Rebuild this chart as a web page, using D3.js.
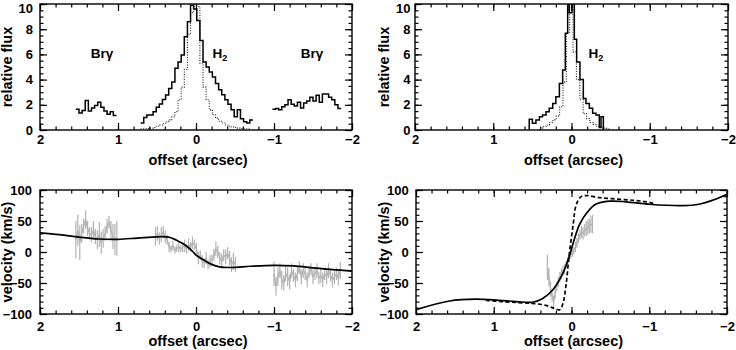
<!DOCTYPE html>
<html>
<head>
<meta charset="utf-8">
<style>
  body { margin: 0; background: #fff; }
  svg { display: block; font-family: "Liberation Sans", Arial, sans-serif; font-weight: bold; }
  .frame { fill: none; stroke: #000; stroke-width: 1.4; }
  .axis path.domain { display: none; }
  .axis line { stroke: #000; stroke-width: 1.2; }
  .axis text { font-size: 13px; font-weight: bold; fill: #000; font-family: "Liberation Sans", Arial, sans-serif; }
  .title { font-size: 14.5px; }
  .hist { fill: none; stroke: #000; stroke-width: 1.5; }
  .hist.dot { stroke: #222; stroke-width: 1.1; stroke-dasharray: 1 1.5; }
  .model { fill: none; stroke: #000; stroke-width: 1.7; }
  .model.dash { stroke-dasharray: 4 2.5; }
  .obs { fill: none; stroke: #b3b3b3; stroke-width: 1.3; }
  .err { stroke: #b3b3b3; stroke-width: 1.2; }
</style>
<title>H2 / Brg offset profiles</title>
</head>
<body>
<svg id="fig" width="736" height="350"></svg>
<script src="https://cdn.jsdelivr.net/npm/d3@7"></script>
<script>
// ---------------- data ----------------
// flux histograms: first bin edge (arcsec), bin width, values (relative flux)
var brgEastStart = 1.54, brgEastBin = 0.04;
var brgEast = [1.65, 1.35, 1.55, 2.35, 1.5, 1.75, 1.95, 2.2, 1.8, 1.5, 1.25, 1.45, 1.15];
var brgWestStart = -0.98, brgWestBin = 0.04;
var brgWest = [1.65, 1.7, 1.6, 1.85, 2.0, 2.4, 2.05, 1.9, 2.2, 1.75, 2.15, 2.3, 2.6, 2.3, 2.75, 2.2, 2.85, 2.85, 2.6, 2.4, 2.0, 1.7];
var h2LeftStart = 0.71, h2LeftBin = 0.04;
var h2Left = [0.55, 1.0, 1.19, 1.19, 1.45, 1.8, 2.06, 2.43, 2.78, 3.3, 3.8, 4.9, 5.4, 5.95, 7.4, 8.6, 9.9,
              9.6, 8.7, 7.1, 5.4, 5.0, 4.6, 4.2, 3.7, 3.2, 2.8, 2.4, 2.05, 1.6, 1.05, 1.6, 0.9, 0.65, 0.55, 0.8];
var contLeftStart = 0.71, contLeftBin = 0.04;
var contLeft = [0.1, 0.1, 0.12, 0.15, 0.2, 0.3, 0.4, 0.5, 0.65, 0.8, 1.05, 1.45, 2.4, 3.4, 4.8, 7.6, 9.3,
                9.8, 9.8, 5.3, 3.4, 2.4, 1.6, 1.2, 0.94, 0.7, 0.55, 0.4, 0.3, 0.25, 0.2, 0.15, 0.12, 0.1, 0.1];
// second slit: explicit bin edges
var h2RightEdges = [0.54, 0.50, 0.455, 0.41, 0.37, 0.325, 0.285, 0.24, 0.20, 0.155, 0.113, 0.079, 0.049,
                    0.028, -0.006, -0.036, -0.066, -0.108, -0.151, -0.185, -0.228, -0.27, -0.313, -0.355, -0.377, -0.407];
var h2Right = [0.85, 0.53, 0.8, 1.06, 1.19, 1.45, 1.72, 2.1, 2.64, 3.7, 4.76, 7.67, 11, 9.3, 11, 7.2, 5.4,
               4.0, 2.5, 2.1, 1.72, 1.32, 1.19, 0.2, 1.06];
var contRightStart = 0.41, contRightBin = 0.043;
var contRight = [0.15, 0.3, 0.4, 0.6, 0.8, 1.1, 1.85, 3.8, 7.7, 10.5, 6.2, 4.0, 2.4, 1.3, 0.9, 0.6, 0.45, 0.3, 0.25, 0.15, 0.1];

// velocity curves (offset arcsec, km/s)
var velLeftStart = [1.54, 0.52, -1.0], velLeftStep = 0.025;
var velLeftE = [20, 35, 15, 30, 42, 52, 38, 30, 28, 35, 25, 20, 28, 15, 22, 30, 42, 48, 35, 25, 20, 22];
var errLeftE = [30, 25, 28, 15, 12, 15, 12, 10, 12, 15, 12, 15, 20, 18, 15, 12, 12, 10, 15, 20, 25, 28];
var velLeftC = [25, 30, 22, 28, 32, 25, 20, 8, 5, 10, 3, 6, 8, 5, 8, 10, 5, 12, 8, 15, 12, 5, -10, -5, -15, -18,
                -10, -20, -15, -12, -5, 5, 0, -10, -15, -5, -8, -2, -10, -20, -15, -20];
var errLeftC = [15, 12, 10, 12, 10, 10, 8, 8, 6, 8, 6, 6, 8, 6, 8, 10, 8, 10, 8, 10, 8, 10, 10, 8, 10, 8,
                10, 8, 10, 8, 10, 12, 10, 10, 12, 10, 12, 10, 12, 12, 14, 12];
var velLeftW = [-35, -55, -40, -30, -45, -50, -35, -40, -48, -30, -38, -45, -35, -25, -40, -30, -35, -45, -32, -28,
                -40, -35, -30, -42, -38, -45, -35, -40, -30, -38, -45, -40, -35, -42, -30];
var errLeftW = [20, 15, 15, 12, 15, 12, 12, 15, 12, 12, 10, 12, 12, 10, 12, 12, 10, 12, 10, 10,
                12, 10, 12, 10, 12, 12, 10, 12, 12, 10, 12, 12, 10, 12, 14];
var modelLeft = [[2, 31], [1.75, 28], [1.5, 24], [1.25, 21], [1.0, 20.5], [0.75, 22.5], [0.5, 24.5], [0.35, 24],
                 [0.25, 19], [0.15, 12], [0.05, 2], [0, -5], [-0.1, -13], [-0.2, -20], [-0.3, -24], [-0.45, -25],
                 [-0.7, -23], [-1.0, -21.5], [-1.25, -22.5], [-1.5, -25.5], [-1.75, -28.5], [-2, -30.5]];

var velRightStart = 0.31, velRightStep = 0.02;
var velRight = [-25, -40, -60, -70, -80, -65, -55, -48, -40, -35, -30, -28, -20, -15, -10, -5, -2, 2, 8, 15,
                22, 28, 32, 30, 35, 38, 40, 42, 45, 45];
var errRight = [20, 15, 12, 10, 10, 10, 8, 8, 8, 8, 8, 8, 6, 6, 6, 6, 6, 6, 8, 8, 8, 8, 10, 10, 10, 12, 12, 12, 14, 15];
var modelRight = [[2, -93], [1.57, -79], [1.23, -76], [0.93, -78], [0.71, -80], [0.5, -81], [0.37, -75],
                  [0.24, -61], [0.11, -34], [0.03, -7.5], [-0.04, 22], [-0.1, 43.5], [-0.19, 62], [-0.31, 77],
                  [-0.49, 82], [-0.7, 81], [-1.0, 77], [-1.43, 74.7], [-1.64, 77], [-1.86, 85.5], [-2, 93]];
var modelRightThin = [[1.1, -78], [0.9, -80], [0.7, -81.5], [0.5, -83], [0.33, -86], [0.22, -91], [0.15, -93],
                      [0.11, -83], [0.07, -53], [0.03, -5], [-0.02, 43], [-0.06, 76], [-0.12, 89], [-0.19, 91],
                      [-0.36, 87.6], [-0.57, 85.5], [-0.79, 83.5], [-0.96, 81], [-1.05, 78.5]];

var xMajor = [2, 1, 0, -1, -2];

// ---------------- drawing ----------------
var svg = d3.select('#fig');

function makePanel(id, left, right, top, bottom, yDomain, yMajor, yMinorStep, o) {
  var x = d3.scaleLinear().domain([2, -2]).range([left, right]);
  var y = d3.scaleLinear().domain(yDomain).range([bottom, top]);
  var g = svg.append('g');
  g.append('clipPath').attr('id', 'clip' + id)
    .append('rect').attr('x', left).attr('y', top).attr('width', right - left).attr('height', bottom - top);

  var xMinor = d3.range(-2, 2.0001, 0.2);
  var yMinor = d3.range(yDomain[0], yDomain[1] + 1e-6, yMinorStep);

  function ax(gen, scale, vals, size, tx, ty) {
    var a = gen(scale).tickValues(vals).tickSize(-size).tickFormat('');
    g.append('g').attr('class', 'axis').attr('transform', 'translate(' + tx + ',' + ty + ')').call(a);
  }
  ax(d3.axisBottom, x, xMinor, 3.5, 0, bottom);
  ax(d3.axisTop, x, xMinor, 3.5, 0, top);
  ax(d3.axisBottom, x, xMajor, 7, 0, bottom);
  ax(d3.axisTop, x, xMajor, 7, 0, top);
  ax(d3.axisLeft, y, yMinor, 3.5, left, 0);
  ax(d3.axisRight, y, yMinor, 3.5, right, 0);
  ax(d3.axisLeft, y, yMajor, 7, left, 0);
  ax(d3.axisRight, y, yMajor, 7, right, 0);

  // labelled axes
  g.append('g').attr('class', 'axis').attr('transform', 'translate(0,' + bottom + ')')
    .call(d3.axisBottom(x).tickValues(xMajor).tickSize(0).tickPadding(o.xPad).tickFormat(d3.format('d')))
    .attr('font-size', null).attr('font-family', null);
  var yl = g.append('g').attr('class', 'axis').attr('transform', 'translate(' + left + ',0)')
    .call(d3.axisLeft(y).tickValues(yMajor).tickSize(0).tickPadding(o.yPad).tickFormat(d3.format('d')))
    .attr('font-size', null).attr('font-family', null);
  // keep the top label inside the picture
  yl.selectAll('.tick text').filter(function (d) { return d === yDomain[1] && top < 10; }).attr('dy', '0.62em');

  g.append('rect').attr('class', 'frame')
    .attr('x', left).attr('y', top).attr('width', right - left).attr('height', bottom - top);

  g.append('text').attr('class', 'title')
    .attr('x', (left + right) / 2 + 2).attr('y', o.xTitleY)
    .attr('text-anchor', 'middle').text('offset (arcsec)');
  g.append('text').attr('class', 'title')
    .attr('transform', 'translate(' + o.yTitleX + ',' + (top + bottom) / 2 + ') rotate(-90)')
    .attr('text-anchor', 'middle').text(o.yTitle);

  var plot = g.append('g').attr('clip-path', 'url(#clip' + id + ')');
  return { x: x, y: y, g: g, plot: plot };
}

function histEdges(start, bin, vals) {
  return vals.map(function (v, i) { return start - i * bin; }).concat([start - vals.length * bin]);
}

function drawHist(p, edges, vals, cls, closed) {
  var pts = vals.map(function (v, i) { return [edges[i], v]; });
  pts.push([edges[vals.length], vals[vals.length - 1]]);
  if (closed) {
    pts.unshift([edges[0], 0]);
    pts.push([edges[vals.length], 0]);
  }
  var line = d3.line()
    .x(function (d) { return p.x(d[0]); })
    .y(function (d) { return p.y(d[1]); })
    .curve(d3.curveStepAfter);
  p.plot.append('path').attr('class', cls).attr('d', line(pts));
}

function drawObs(p, start, step, vals, errs) {
  var pts = vals.map(function (v, i) { return [start - i * step, v, errs[i]]; });
  p.plot.append('path').attr('class', 'obs')
    .attr('d', d3.line().x(function (d) { return p.x(d[0]); }).y(function (d) { return p.y(d[1]); })(pts));
  p.plot.selectAll(null).data(pts).enter().append('line').attr('class', 'err')
    .attr('x1', function (d) { return p.x(d[0]); }).attr('x2', function (d) { return p.x(d[0]); })
    .attr('y1', function (d) { return p.y(d[1] - d[2]); }).attr('y2', function (d) { return p.y(d[1] + d[2]); });
}

function drawModel(p, pts, cls) {
  var line = d3.line()
    .x(function (d) { return p.x(d[0]); })
    .y(function (d) { return p.y(d[1]); })
    .curve(d3.curveCatmullRom.alpha(0.5));
  p.plot.append('path').attr('class', cls).attr('d', line(pts));
}

function label(p, x, y, name, sub) {
  var t = p.g.append('text').attr('x', x).attr('y', y).attr('text-anchor', 'middle')
    .attr('font-size', 13.5).text(name);
  if (sub) t.append('tspan').attr('font-size', 9).attr('dy', 3).text(sub);
}

// top left: flux along slit
var p1 = makePanel(1, 40, 352, 4, 130, [0, 10], [0, 2, 4, 6, 8, 10], 0.5,
  { xPad: 5, yPad: 7, xTitleY: 165, yTitleX: 12, yTitle: 'relative flux' });
drawHist(p1, histEdges(contLeftStart, contLeftBin, contLeft), contLeft, 'hist dot', false);
drawHist(p1, histEdges(brgEastStart, brgEastBin, brgEast), brgEast, 'hist', false);
drawHist(p1, histEdges(brgWestStart, brgWestBin, brgWest), brgWest, 'hist', false);
drawHist(p1, histEdges(h2LeftStart, h2LeftBin, h2Left), h2Left, 'hist', false);
label(p1, 102, 58, 'Brγ');
label(p1, 312, 58, 'Brγ');
label(p1, 220, 58, 'H', '2');

// top right
var p2 = makePanel(2, 415, 728, 4, 130, [0, 10], [0, 2, 4, 6, 8, 10], 0.5,
  { xPad: 5, yPad: 4.5, xTitleY: 165, yTitleX: 389, yTitle: 'relative flux' });
drawHist(p2, histEdges(contRightStart, contRightBin, contRight), contRight, 'hist dot', true);
drawHist(p2, h2RightEdges, h2Right, 'hist', true);
label(p2, 596, 58, 'H', '2');

// bottom left: velocities
var p3 = makePanel(3, 40, 352, 190, 314, [-100, 100], [-100, -50, 0, 50, 100], 10,
  { xPad: 7.4, yPad: 8, xTitleY: 346, yTitleX: 12, yTitle: 'velocity (km/s)' });
drawObs(p3, velLeftStart[0], velLeftStep, velLeftE, errLeftE);
drawObs(p3, velLeftStart[1], velLeftStep, velLeftC, errLeftC);
drawObs(p3, velLeftStart[2], velLeftStep, velLeftW, errLeftW);
drawModel(p3, modelLeft, 'model');

// bottom right
var p4 = makePanel(4, 416, 727, 190, 314, [-100, 100], [-100, -50, 0, 50, 100], 10,
  { xPad: 7.4, yPad: 7.3, xTitleY: 346, yTitleX: 389, yTitle: 'velocity (km/s)' });
drawObs(p4, velRightStart, velRightStep, velRight, errRight);
drawModel(p4, modelRightThin, 'model dash');
drawModel(p4, modelRight, 'model');
</script>
</body>
</html>
